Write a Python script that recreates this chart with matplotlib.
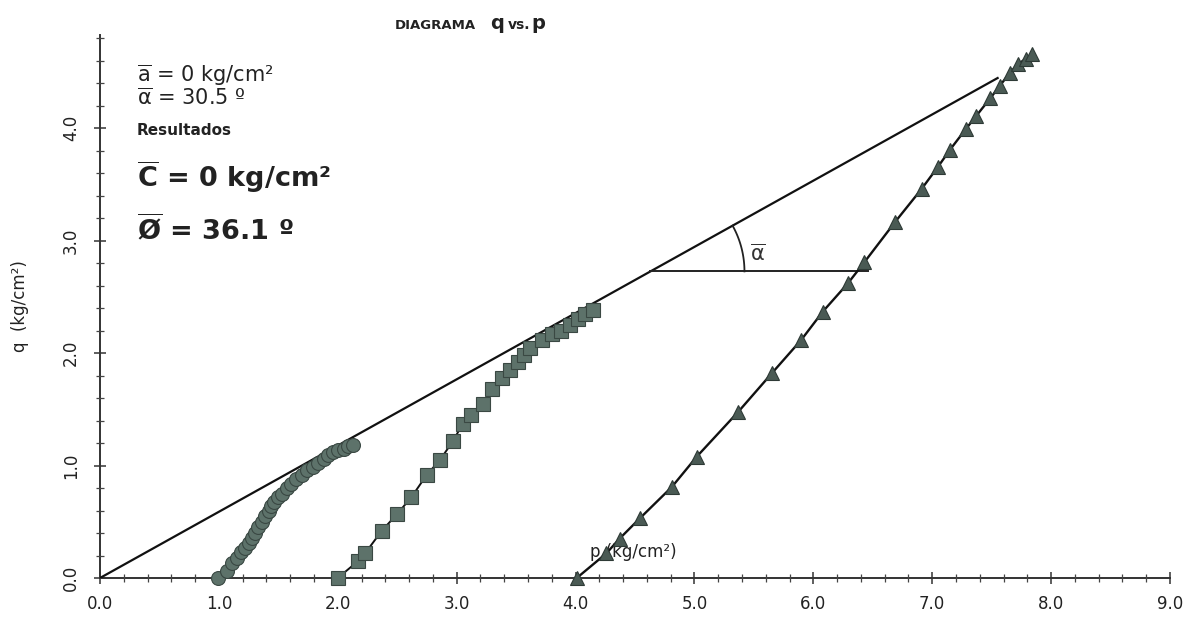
import numpy as np
import matplotlib
matplotlib.use("Agg")
import matplotlib.pyplot as plt
from matplotlib.ticker import MultipleLocator, FormatStrFormatter

# ---- data ----
p_circ = [0.99, 1.07, 1.11, 1.15, 1.19, 1.22, 1.25, 1.28, 1.30, 1.33, 1.36, 1.39, 1.42, 1.44,
          1.46, 1.50, 1.53, 1.57, 1.61, 1.65, 1.70, 1.74, 1.79, 1.83, 1.88, 1.92, 1.96, 2.00,
          2.05, 2.09, 2.13]
q_circ = [0.00, 0.06, 0.13, 0.18, 0.23, 0.27, 0.31, 0.36, 0.40, 0.45, 0.50, 0.55, 0.60, 0.64,
          0.68, 0.72, 0.75, 0.80, 0.84, 0.88, 0.92, 0.96, 0.99, 1.02, 1.06, 1.09, 1.12, 1.14,
          1.15, 1.17, 1.18]

p_sq = [2.00, 2.17, 2.23, 2.37, 2.50, 2.62, 2.75, 2.86, 2.97, 3.05, 3.12, 3.22, 3.30, 3.38,
        3.45, 3.52, 3.57, 3.62, 3.72, 3.80, 3.88, 3.95, 4.02, 4.08, 4.15]
q_sq = [0.00, 0.15, 0.22, 0.42, 0.57, 0.72, 0.92, 1.05, 1.22, 1.37, 1.45, 1.55, 1.68, 1.78,
        1.85, 1.92, 1.98, 2.05, 2.12, 2.17, 2.20, 2.25, 2.30, 2.35, 2.38]

p_tri = [4.01, 4.26, 4.37, 4.54, 4.81, 5.02, 5.37, 5.65, 5.90, 6.08, 6.29, 6.43, 6.69, 6.91,
         7.05, 7.15, 7.28, 7.37, 7.49, 7.57, 7.65, 7.72, 7.79, 7.84]
q_tri = [0.00, 0.22, 0.35, 0.53, 0.81, 1.08, 1.48, 1.82, 2.12, 2.37, 2.62, 2.81, 3.17, 3.46,
         3.66, 3.81, 3.99, 4.11, 4.27, 4.38, 4.49, 4.57, 4.62, 4.66]

alpha_deg = 30.5
a_int = 0.0
env_p_end = 7.55
ang_p0 = 4.63          # where the angle construction starts on the envelope
ang_p1 = 6.46          # end of the horizontal reference line

# ---- figure ----
W, H, DPI = 1189, 618, 100
fig = plt.figure(figsize=(W / DPI, H / DPI), dpi=DPI)
L, R, B, T = 100, 1170, 578, 35
ax = fig.add_axes([L / W, 1 - B / H, (R - L) / W, (B - T) / H])
xmax, ymax = 9.0, 4.83
ax.set_xlim(0, xmax)
ax.set_ylim(0, ymax)

for s in ("top", "right"):
    ax.spines[s].set_visible(False)
for s in ("left", "bottom"):
    ax.spines[s].set_color("#333333")
    ax.spines[s].set_linewidth(1.4)
    ax.spines[s].set_zorder(1)

ax.xaxis.set_major_locator(MultipleLocator(1.0))
ax.xaxis.set_minor_locator(MultipleLocator(0.2))
ax.yaxis.set_major_locator(MultipleLocator(1.0))
ax.yaxis.set_minor_locator(MultipleLocator(0.2))
ax.xaxis.set_major_formatter(FormatStrFormatter("%.1f"))
ax.yaxis.set_major_formatter(FormatStrFormatter("%.1f"))
ax.tick_params(which="major", direction="inout", length=9, width=1.1, color="#333333",
               labelsize=12, labelcolor="#222222")
ax.tick_params(which="minor", direction="inout", length=6, width=0.9, color="#444444")
ax.tick_params(axis="x", which="major", pad=8)
ax.tick_params(axis="y", which="major", pad=10)
for lab in ax.get_yticklabels():
    lab.set_rotation(90)
    lab.set_va("center")

ax.set_ylabel("q  (kg/cm²)", fontsize=12, color="#222222", labelpad=24)

# envelope line
slope = np.tan(np.deg2rad(alpha_deg))
pe = np.array([0.0, env_p_end])
ax.plot(pe, a_int + slope * pe, color="#111111", lw=1.6, zorder=3)

# angle construction
q0 = a_int + slope * ang_p0
ax.plot([ang_p0, ang_p1], [q0, q0], color="#222222", lw=1.4, zorder=3)
sx = (R - L) / xmax
sy = (B - T) / ymax
disp_ang = np.arctan(slope * sy / sx)
r_px = 94
t = np.linspace(0, disp_ang, 40)
ax.plot(ang_p0 + r_px * np.cos(t) / sx, q0 + r_px * np.sin(t) / sy, color="#222222", lw=1.3,
        zorder=3)
ax.text(5.47, 2.88, r"$\overline{\mathrm{\alpha}}$", fontsize=15, color="#333333",
        ha="left", va="center")

fill = "#5d726a"
edge = "#3a4843"
ax.plot(p_circ, q_circ, color="#222222", lw=1.2, marker="o", ms=10, mfc=fill, mec=edge,
        mew=0.8, zorder=6, clip_on=False)
ax.plot(p_sq, q_sq, color="#111111", lw=1.4, marker="s", ms=9.5, mfc=fill, mec=edge,
        mew=0.8, zorder=6, clip_on=False)
ax.plot(p_tri, q_tri, color="#111111", lw=1.7, marker="^", ms=10, mfc="#4a5a54", mec="#2e3a36",
        mew=0.8, zorder=6, clip_on=False)

# x-axis label placed inside the plot
ax.text(4.12, 0.23, "p (kg/cm²)", fontsize=12, color="#222222", ha="left", va="center",
        zorder=5)

# parameters block
ax.text(0.31, 4.47, r"$\overline{\mathrm{a}}$ = 0 kg/cm²", fontsize=15, color="#222222",
        ha="left", va="center")
ax.text(0.31, 4.27, r"$\overline{\mathrm{\alpha}}$ = 30.5 º", fontsize=15, color="#222222",
        ha="left", va="center")
ax.text(0.31, 3.98, "Resultados", fontsize=11, fontweight="bold", color="#222222",
        ha="left", va="center")
ax.text(0.31, 3.57, r"$\mathbf{\overline{C}}$ = 0 kg/cm²", fontsize=19.5, fontweight="bold",
        color="#222222", ha="left", va="center")
ax.text(0.31, 3.10, r"$\mathbf{\overline{Ø}}$ = 36.1 º", fontsize=19.5, fontweight="bold",
        color="#222222", ha="left", va="center")

# title
yb = 1 - 29 / H
fig.text(395 / W, yb, "DIAGRAMA", fontsize=9.5, fontweight="bold", color="#222222",
         ha="left", va="baseline")
fig.text(490 / W, yb, "q", fontsize=14, fontweight="bold", color="#222222",
         ha="left", va="baseline")
fig.text(508 / W, yb, "vs.", fontsize=10, fontweight="bold", color="#222222",
         ha="left", va="baseline")
fig.text(531 / W, yb, "p", fontsize=14, fontweight="bold", color="#222222",
         ha="left", va="baseline")

fig.savefig("out.png", dpi=DPI)
